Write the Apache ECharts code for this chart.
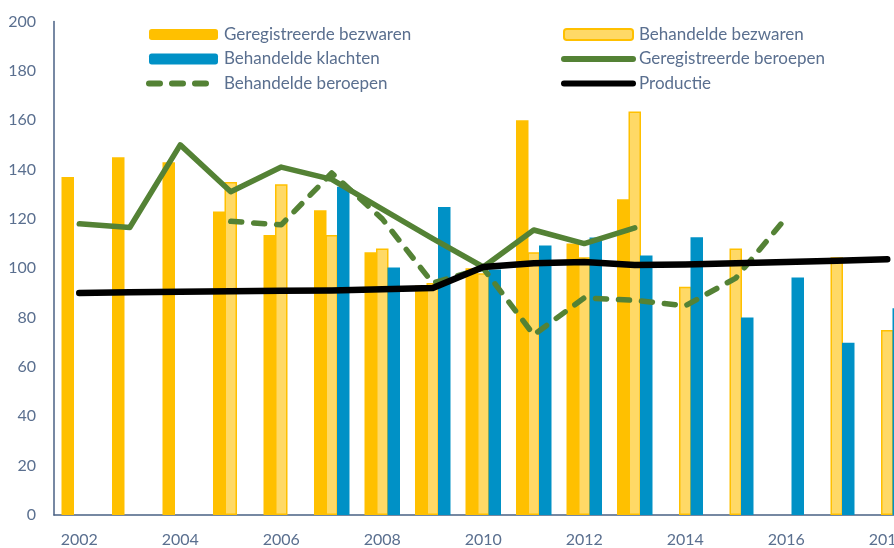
<!DOCTYPE html>
<html>
<head>
<meta charset="utf-8">
<script src="https://cdn.jsdelivr.net/npm/echarts@6/dist/echarts.min.js"></script>
<style>
  html, body { margin: 0; padding: 0; overflow: hidden; background: #fff; }
  #chart { width: 920px; height: 548px; }
</style>
</head>
<body>
<div id="chart"></div>
<script>
const years = ["2002", "2003", "2004", "2005", "2006", "2007", "2008", "2009", "2010",
  "2011", "2012", "2013", "2014", "2015", "2016", "2017", "2018"];

const geregistreerdeBezwaren = [137, 145, 143, 123, 113.5, 123.5, 106.5, 93, 100, 160, 110, 128,
  null, null, null, null, null];
const behandeldeBezwaren = [null, null, null, 135, 134, 113.5, 108, 94, 98, 106.5, 104.5, 163.5,
  92.5, 108, null, 104.5, 75];
const behandeldeKlachten = [null, null, null, null, null, 133, 100.3, 124.8, 99.5, 109.2, 112.5, 105.2,
  112.6, 80, 96.3, 69.8, 83.8];
const geregistreerdeBeroepen = [118, 116.5, 150, 131, 141, 136, 124, 112, 100.5, 115.5, 110, 116.4,
  null, null, null, null, null];
const behandeldeBeroepen = [null, null, null, 119, 117.6, 138.6, 120, 94, 100, 73, 88, 87,
  84.8, 96, 120.5, null, null];
const productie = [90, 90.3, 90.5, 90.7, 90.9, 91, 91.5, 92, 100.5, 102, 102.5, 101.3,
  101.5, 102, 102.5, 103, 103.6];

const yTicks = { min: 0, max: 200, interval: 20 };

const textColor = "#5a6f8f";
const axisColor = "#4a6184";
const green = "#548235";
const fontFamily = "Lato";
const dash = [11, 12];

const chart = echarts.init(document.getElementById("chart"));

const legendBase = {
  orient: "vertical",
  top: 21,
  itemWidth: 69,
  itemHeight: 11,
  itemGap: 7.5,
  textStyle: {
    color: textColor,
    fontSize: 17,
    fontFamily: fontFamily,
    padding: [0, 0, 0, 1],
  },
};

// line legend items: hide the marker dot, keep a thick line
const lineItem = (name, width) => ({
  name,
  itemStyle: { opacity: 0 },
  lineStyle: { width, cap: "round" },
});

const option = {
  animation: false,
  legend: [
    {
      ...legendBase,
      left: 141,
      data: [
        "Geregistreerde bezwaren",
        "Behandelde klachten",
        lineItem("Behandelde beroepen", 6),
      ],
    },
    {
      ...legendBase,
      left: 556,
      data: [
        "Behandelde bezwaren",
        lineItem("Geregistreerde beroepen", 6),
        lineItem("Productie", 6),
      ],
    },
  ],
  grid: {
    left: 54,
    right: 7.5,
    top: 21.5,
    bottom: 32,
  },
  xAxis: {
    type: "category",
    data: years,
    boundaryGap: true,
    axisLine: { lineStyle: { color: axisColor, width: 1.5 } },
    axisTick: { show: false },
    axisLabel: {
      interval: 1,
      color: textColor,
      fontSize: 16,
      fontFamily: fontFamily,
      margin: 17,
    },
  },
  yAxis: {
    type: "value",
    min: yTicks.min,
    max: yTicks.max,
    interval: yTicks.interval,
    axisLine: { show: true, lineStyle: { color: axisColor, width: 1.5 } },
    axisTick: { show: false },
    splitLine: { show: false },
    axisLabel: {
      color: textColor,
      fontSize: 16,
      fontFamily: fontFamily,
      margin: 18,
    },
  },
  series: [
    {
      name: "Geregistreerde bezwaren",
      type: "bar",
      data: geregistreerdeBezwaren,
      barWidth: 12.5,
      barGap: "-8%",
      itemStyle: { color: "#ffc000" },
    },
    {
      name: "Behandelde bezwaren",
      type: "bar",
      data: behandeldeBezwaren,
      barWidth: 12.5,
      barGap: "-8%",
      itemStyle: { color: "#ffd966", borderColor: "#ffc000", borderWidth: 1.5 },
    },
    {
      name: "Behandelde klachten",
      type: "bar",
      data: behandeldeKlachten,
      barWidth: 12.5,
      barGap: "-8%",
      itemStyle: { color: "#0091c6" },
    },
    {
      name: "Geregistreerde beroepen",
      type: "line",
      data: geregistreerdeBeroepen,
      symbol: "none",
      z: 3,
      lineStyle: { color: green, width: 5.5, cap: "round", join: "round" },
      itemStyle: { color: green },
    },
    {
      name: "Behandelde beroepen",
      type: "line",
      data: behandeldeBeroepen,
      symbol: "none",
      z: 3,
      lineStyle: { color: green, width: 5.5, type: dash, cap: "round", join: "round" },
      itemStyle: { color: green },
    },
    {
      name: "Productie",
      type: "line",
      data: productie,
      symbol: "none",
      z: 4,
      lineStyle: { color: "#000000", width: 6.5, cap: "round", join: "round" },
      itemStyle: { color: "#000000" },
    },
  ],
};

chart.setOption(option);
</script>
</body>
</html>
